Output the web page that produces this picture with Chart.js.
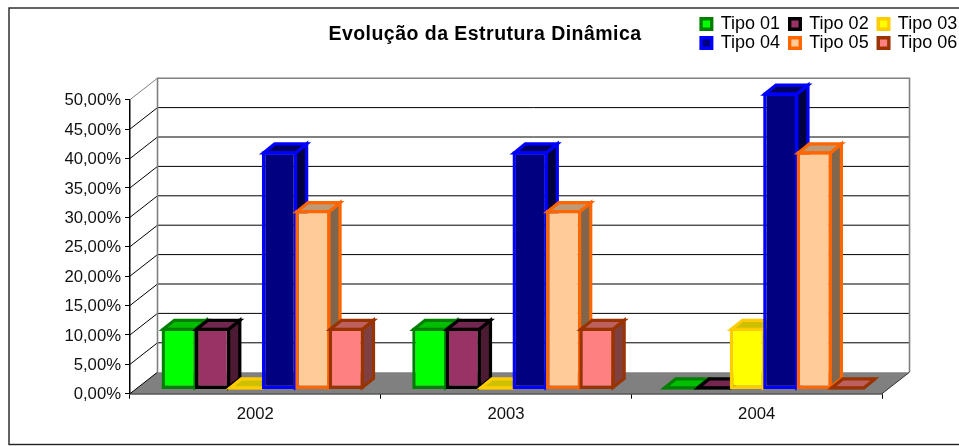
<!DOCTYPE html>
<html><head><meta charset="utf-8">
<style>html,body{margin:0;padding:0;background:#fff}canvas{display:block}</style>
<script src="https://cdn.jsdelivr.net/npm/chart.js@4"></script>
</head><body><canvas id="c" width="959" height="446"></canvas>
<script>
const categories = ['2002','2003','2004'];
const seriesNames = ['Tipo 01','Tipo 02','Tipo 03','Tipo 04','Tipo 05','Tipo 06'];
const tipo01 = [10,10,0];
const tipo02 = [10,10,0];
const tipo03 = [0,0,10];
const tipo04 = [40,40,50];
const tipo05 = [30,30,40];
const tipo06 = [10,10,0];
const seriesValues = [tipo01,tipo02,tipo03,tipo04,tipo05,tipo06];
const fills   = ['#00FF00','#993366','#FFFF00','#000080','#FFCC99','#FF8080'];
const borders = ['#008000','#000000','#FFCC00','#0000FF','#FF6600','#993300'];
const tops    = ['#00BF00','#732650','#CCC000','#000060','#BF9973','#BF6060'];
const sides   = ['#008000','#4D1A33','#808000','#000040','#80664D','#804040'];
const chartTitle = 'Evolução da Estrutura Dinâmica';

const FONT = '"Liberation Sans", Arial, sans-serif';
const WALL = {dx:27.5, dy:-21.5};
const BAR = {dx:7.4, dy:-5.7, depthX:11.2, depthY:-9, grow:1.5, stroke:3.2};

const stage = {
  id:'stage',
  beforeLayout(chart){
    const t = chart.titleBlock;
    if(t && !t._pinned){
      const up = t.update.bind(t);
      t.update = function(w,h){ up(w,h); this.height = 0; };
      const drawT = t.draw.bind(t);
      t.draw = function(){
        const c = this.ctx;
        c.save(); c.letterSpacing = '0.47px';
        drawT();
        c.restore();
      };
      t._pinned = true;
    }
    const lg = chart.legend;
    if(lg && !lg._pinned){
      const fit = lg.fit.bind(lg);
      lg.fit = function(){ fit(); this.height = 0; };
      const draw = lg.draw.bind(lg);
      lg.draw = function(){
        const all = this.legendItems;
        [0,1].forEach(r=>{
          this.legendItems = all.slice(r*3, r*3+3);
          this.left = 691.5; this.right = 2000;
          this.top = 5.4 + r*19; this.bottom = 100;
          draw();
        });
        this.legendItems = all;
      };
      lg._pinned = true;
    }
  },
  afterLayout(chart){
    const t = chart.titleBlock;
    t.left = 285; t.right = 685; t.top = 22.6; t.bottom = 46;
  },
  afterDatasetsUpdate(chart){
    chart.data.datasets.forEach((d,i)=>{
      chart.getDatasetMeta(i).data.forEach(el=>{
        el.x += BAR.dx;
        el.y += BAR.dy - BAR.grow;
        el.base += BAR.dy + BAR.grow;
        el.width += 1.8;
      });
    });
  },
  beforeDraw(chart){
    const {ctx,width,height} = chart;
    ctx.save();
    ctx.fillStyle='#fff'; ctx.fillRect(0,0,width,height);
    ctx.strokeStyle='#222'; ctx.lineWidth=1.4;
    ctx.strokeRect(9,8,width+20,436.5);
    ctx.restore();
  },
  beforeDatasetsDraw(chart){
    const {ctx,chartArea:a,scales:{y}} = chart;
    const {dx,dy} = WALL;
    const y0 = y.getPixelForValue(0), yTop = y.getPixelForValue(50);
    ctx.save();
    ctx.fillStyle='#808080';
    ctx.beginPath();
    ctx.moveTo(a.left,y0); ctx.lineTo(a.left+dx,y0+dy); ctx.lineTo(a.right+dx,y0+dy); ctx.lineTo(a.right,y0);
    ctx.closePath(); ctx.fill();
    ctx.strokeStyle='#000'; ctx.lineWidth=1;
    y.ticks.forEach(t=>{
      const p = y.getPixelForValue(t.value);
      if(t.value===0) return;
      ctx.strokeStyle = t.value===50 ? '#808080' : '#000';
      ctx.beginPath();
      ctx.moveTo(a.left,p); ctx.lineTo(a.left+dx,p+dy);
      if(t.value<50) ctx.lineTo(a.right+dx,p+dy);
      ctx.stroke();
    });
    ctx.strokeStyle='#000';
    ctx.beginPath(); ctx.moveTo(a.left,y0); ctx.lineTo(a.left+dx,y0+dy); ctx.stroke();
    ctx.strokeStyle='#808080'; ctx.lineWidth=1.6;
    ctx.beginPath();
    ctx.moveTo(a.left+dx,y0+dy); ctx.lineTo(a.left+dx,yTop+dy); ctx.lineTo(a.right+dx,yTop+dy); ctx.lineTo(a.right+dx,y0+dy);
    ctx.stroke();
    ctx.strokeStyle='#333'; ctx.lineWidth=1;
    ctx.beginPath(); ctx.moveTo(a.right,y0); ctx.lineTo(a.right+dx,y0+dy); ctx.stroke();
    ctx.restore();
    // paint series left to right, so each bar overlaps the side of the previous one
    chart.getSortedVisibleDatasetMetas().forEach(m=>chart._drawDataset(m));
    return false;
  },
  beforeDatasetDraw(chart,args){
    const {ctx} = chart, i = args.index;
    const {depthX:dx,depthY:dy,stroke} = BAR;
    const h = stroke/2;
    ctx.save();
    ctx.lineWidth = stroke; ctx.lineJoin='miter';
    ctx.strokeStyle = borders[i];
    args.meta.data.forEach(el=>{
      const L = el.x - el.width/2 + h, R = el.x + el.width/2 - h;
      const T = el.y + h, B = el.base - h;
      const top = Math.min(T,B);
      ctx.fillStyle = sides[i];
      ctx.beginPath();
      ctx.moveTo(R,top); ctx.lineTo(R+dx,top+dy); ctx.lineTo(R+dx,B+dy); ctx.lineTo(R,B);
      ctx.closePath(); ctx.fill(); ctx.stroke();
      ctx.fillStyle = tops[i];
      ctx.beginPath();
      ctx.moveTo(L,top); ctx.lineTo(L+dx,top+dy); ctx.lineTo(R+dx,top+dy); ctx.lineTo(R,top);
      ctx.closePath(); ctx.fill(); ctx.stroke();
    });
    ctx.restore();
  }
};

new Chart(document.getElementById('c'),{
  type:'bar',
  plugins:[stage],
  data:{
    labels:categories,
    datasets:seriesNames.map((n,i)=>({
      label:n, data:seriesValues[i],
      backgroundColor:fills[i], borderColor:borders[i], borderWidth:3.4,
      borderSkipped:false, inflateAmount:0,
      clip:false,
      categoryPercentage:0.8, barPercentage:1
    }))
  },
  options:{
    responsive:false, animation:false, events:[],
    layout:{padding:{left:0,right:77,top:99.7,bottom:0}},
    plugins:{
      tooltip:{enabled:false},
      title:{display:true,text:chartTitle,color:'#000',padding:0,
        font:{family:FONT,size:19.5,weight:'bold',lineHeight:1.2}},
      legend:{display:true,position:'top',align:'start',
        labels:{color:'#000',boxWidth:10.6,boxHeight:10.6,padding:9.6,font:{family:FONT,size:18}}}
    },
    scales:{
      x:{
        afterFit(s){s.height=52.3;},
        grid:{drawOnChartArea:false,color:'#000',tickLength:5,tickWidth:1},
        border:{color:'#000',width:1.5},
        ticks:{color:'#111',padding:6,font:{family:FONT,size:16.7},maxRotation:0}
      },
      y:{
        min:0,max:50,
        afterFit(s){s.width=130;},
        grid:{drawOnChartArea:false,color:'#000',tickLength:5,tickWidth:1},
        border:{color:'#000',width:1.5},
        ticks:{color:'#111',padding:4,stepSize:5,labelOffset:1,font:{family:FONT,size:16.7},
          callback:v=>v.toFixed(2).replace('.',',')+'%'}
      }
    }
  }
});
</script></body></html>
